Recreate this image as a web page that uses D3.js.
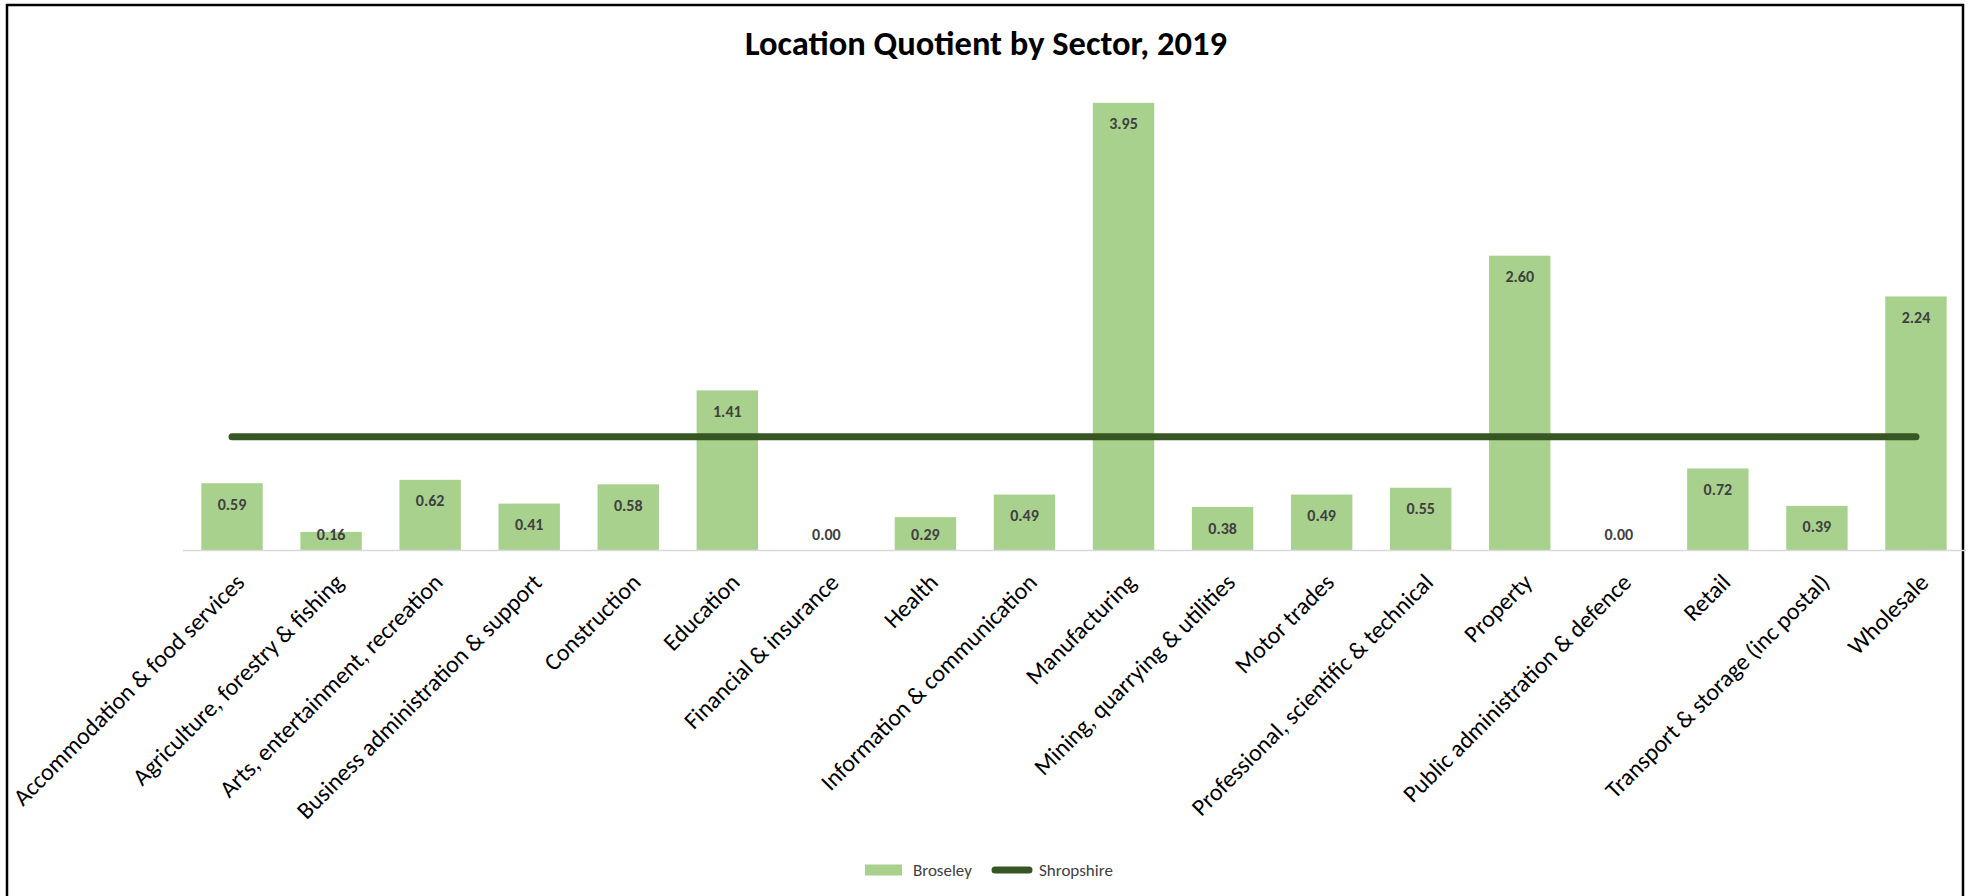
<!DOCTYPE html>
<html>
<head>
<meta charset="utf-8">
<script src="https://cdn.jsdelivr.net/npm/d3@7"></script>
<style>
    body { margin: 0; background: #fff; }
    #chart { width: 1975px; height: 896px; }
    text { font-family: Carlito, Calibri, Lato, sans-serif; }
</style>
</head>
<body>
<div id="chart"></div>
<script>
/*global d3*/

// data
const sectors = [
    'Accommodation & food services',
    'Agriculture, forestry & fishing',
    'Arts, entertainment, recreation',
    'Business administration & support',
    'Construction',
    'Education',
    'Financial & insurance',
    'Health',
    'Information & communication',
    'Manufacturing',
    'Mining, quarrying & utilities',
    'Motor trades',
    'Professional, scientific & technical',
    'Property',
    'Public administration & defence',
    'Retail',
    'Transport & storage (inc postal)',
    'Wholesale'
]
const broseley = [0.59, 0.16, 0.62, 0.41, 0.58, 1.41, 0.00, 0.29, 0.49, 3.95, 0.38, 0.49, 0.55, 2.60, 0.00, 0.72, 0.39, 2.24]
const shropshire = [1, 1, 1, 1, 1, 1, 1, 1, 1, 1, 1, 1, 1, 1, 1, 1, 1, 1]
const seriesNames = ['Broseley', 'Shropshire']
const title = 'Location Quotient by Sector, 2019'

class LQChart {
    constructor(id) {
        this.id = id;
        this.data = sectors.map((s, i) => ({ sector: s, value: broseley[i], base: shropshire[i] }))
        this.init();
    }

    init() {
        this.initSvg();
        this.initScale();
        this.drawFrame();
        this.drawBars();
        this.drawLine();
        this.drawAxis();
        this.drawLegend();
    }

    initSvg() {
        const div = d3.select(`#${this.id}`);
        div.selectAll("*").remove();
        this.w = 1975;
        this.h = 896;
        this.svg = div.append("svg").attr("width", this.w).attr("height", this.h);
    }

    initScale() {
        this.x = d3.scaleBand().domain(sectors).range([182.5, 1965.5]).paddingInner(0.38).paddingOuter(0.19)
        this.y = d3.scaleLinear().domain([0, 4.5]).range([550, 40.6])
    }

    drawFrame() {
        this.svg.append('rect')
            .attr('x', 7).attr('y', 5)
            .attr('width', 1956).attr('height', 900)
            .attr('fill', 'none')
            .attr('stroke', '#000')
            .attr('stroke-width', 2.5)

        this.svg.append('text')
            .attr('x', 986).attr('y', 55)
            .attr('text-anchor', 'middle')
            .attr('font-size', 34.5)
            .attr('font-weight', 'bold')
            .attr('fill', '#000')
            .text(title)
    }

    drawBars() {
        const g = this.svg.append('g')
        g.selectAll('rect')
            .data(this.data)
            .join('rect')
            .attr('x', d => this.x(d.sector))
            .attr('y', d => this.y(d.value))
            .attr('width', this.x.bandwidth())
            .attr('height', d => this.y(0) - this.y(d.value))
            .attr('fill', '#A9D18E')

        // labels sit inside the top of the bar, but never below the baseline
        g.selectAll('text')
            .data(this.data)
            .join('text')
            .attr('x', d => this.x(d.sector) + this.x.bandwidth() / 2)
            .attr('y', d => Math.min(this.y(d.value) + 21, this.y(0) - 16))
            .attr('dy', '0.35em')
            .attr('text-anchor', 'middle')
            .attr('font-size', 16)
            .attr('font-weight', 'bold')
            .attr('fill', '#404040')
            .text(d => d.value.toFixed(2))
    }

    drawLine() {
        const line = d3.line()
            .x(d => this.x(d.sector) + this.x.bandwidth() / 2)
            .y(d => this.y(d.base))
        this.svg.append('path')
            .datum(this.data)
            .attr('d', line)
            .attr('fill', 'none')
            .attr('stroke', '#375623')
            .attr('stroke-width', 7)
            .attr('stroke-linecap', 'round')
    }

    drawAxis() {
        const axis = this.svg.append('g')
            .attr('transform', `translate(0,${this.y(0)})`)
            .call(d3.axisBottom(this.x).tickSize(0).tickPadding(0))
        axis.select('.domain').attr('stroke', '#d9d9d9').attr('stroke-width', 1.5)
        axis.selectAll('.tick text')
            .attr('font-size', 24)
            .attr('fill', '#000')
            .attr('text-anchor', 'end')
            .attr('dy', '0.35em')
            .attr('transform', 'translate(8,28) rotate(-45)')
    }

    drawLegend() {
        const lg = this.svg.append('g').attr('transform', 'translate(865,870)')
        lg.append('rect')
            .attr('x', 0).attr('y', -5.5)
            .attr('width', 37).attr('height', 11)
            .attr('fill', '#A9D18E')
        lg.append('text')
            .attr('x', 48).attr('y', 0).attr('dy', '0.35em')
            .attr('font-size', 17).attr('fill', '#404040')
            .text(seriesNames[0])
        lg.append('line')
            .attr('x1', 130).attr('x2', 164)
            .attr('y1', 0).attr('y2', 0)
            .attr('stroke', '#375623').attr('stroke-width', 7)
            .attr('stroke-linecap', 'round')
        lg.append('text')
            .attr('x', 174).attr('y', 0).attr('dy', '0.35em')
            .attr('font-size', 17).attr('fill', '#404040')
            .text(seriesNames[1])
    }
}

new LQChart('chart')
</script>
</body>
</html>
